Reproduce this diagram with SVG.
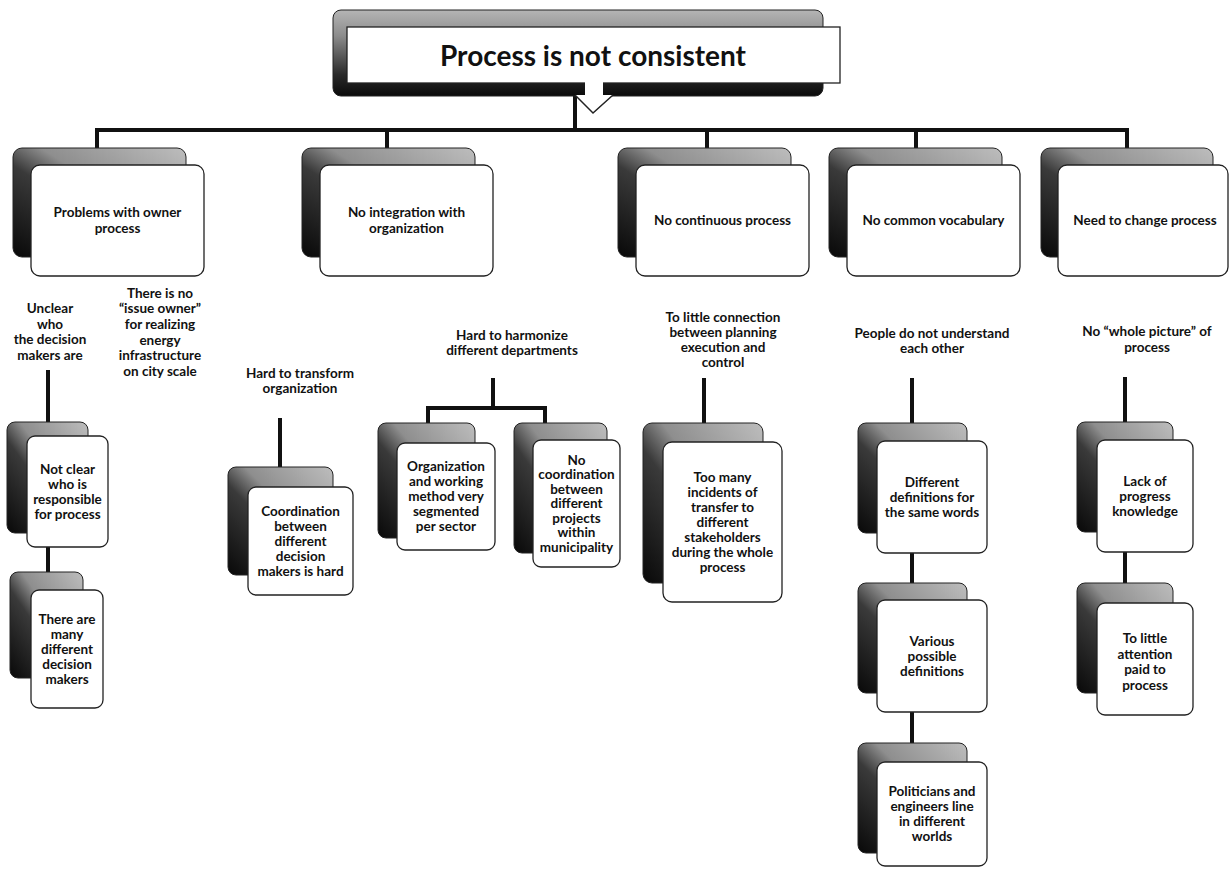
<svg xmlns="http://www.w3.org/2000/svg" width="1231" height="869" viewBox="0 0 1231 869">
<defs>
  <linearGradient id="g" x1="1" y1="0" x2="0" y2="1">
    <stop offset="0" stop-color="#bdbdbd"/>
    <stop offset="0.42" stop-color="#8e8e8e"/>
    <stop offset="0.58" stop-color="#3a3a3a"/>
    <stop offset="1" stop-color="#080808"/>
  </linearGradient>
  <linearGradient id="gt" x1="0" y1="0" x2="0" y2="1">
    <stop offset="0" stop-color="#b5b5b5"/>
    <stop offset="0.3" stop-color="#8c8c8c"/>
    <stop offset="0.75" stop-color="#2a2a2a"/>
    <stop offset="1" stop-color="#0a0a0a"/>
  </linearGradient>
</defs>
<style>
  .back{fill:url(#g);stroke:#222;stroke-width:1}
  .front{fill:#fff;stroke:#222;stroke-width:1.3}
  .t{font-family:Lato,"Liberation Sans",sans-serif;font-weight:bold;font-size:13.5px;fill:#111;text-anchor:middle}
  .title{font-size:28px}
  .c{fill:none;stroke:#111;stroke-width:4}
</style>
<rect width="1231" height="869" fill="#fff"/>

<g id="connectors">
  <path class="c" d="M575,95 V130"/>
  <path class="c" d="M97,148 V130 H1127 V148"/>
  <path class="c" d="M387,130 V148 M707,130 V148 M916,130 V148"/>
  <path class="c" d="M48,370 V422 M48,547 V572"/>
  <path class="c" d="M280,418 V467"/>
  <path class="c" d="M493,378 V408"/>
  <path class="c" d="M428,423 V408 H545 V423"/>
  <path class="c" d="M704,378 V423"/>
  <path class="c" d="M912,378 V423 M912,553 V583 M912,712 V743"/>
  <path class="c" d="M1125,377 V422 M1125,552 V583"/>
</g>

<g id="root">
  <rect x="333" y="10" width="490" height="86" rx="8" fill="url(#gt)" stroke="#222"/>
  <rect x="347" y="27" width="493" height="56" fill="#fff" stroke="#222" stroke-width="1.3"/>
  <polygon points="585,82 603,82 603,95 613,95 593,113 575,95 585,95" fill="#fff"/>
  <path d="M575,95 L593,113 L613,95" fill="none" stroke="#222" stroke-width="1.5"/>
  <text class="t title" x="593" y="66">Process is not consistent</text>
</g>

<g id="cat1">
  <rect class="back" x="13" y="148" width="173" height="109" rx="9"/>
  <rect class="front" x="31" y="165" width="173" height="111" rx="9"/>
  <text class="t" x="117.5" y="217">Problems with owner</text>
  <text class="t" x="117.5" y="233">process</text>
</g>
<g id="cat2">
  <rect class="back" x="302" y="148" width="173" height="109" rx="9"/>
  <rect class="front" x="320" y="165" width="173" height="111" rx="9"/>
  <text class="t" x="406.5" y="217">No integration with</text>
  <text class="t" x="406.5" y="233">organization</text>
</g>
<g id="cat3">
  <rect class="back" x="618" y="148" width="173" height="109" rx="9"/>
  <rect class="front" x="636" y="165" width="173" height="111" rx="9"/>
  <text class="t" x="722.5" y="225">No continuous process</text>
</g>
<g id="cat4">
  <rect class="back" x="829" y="148" width="173" height="109" rx="9"/>
  <rect class="front" x="847" y="165" width="173" height="111" rx="9"/>
  <text class="t" x="933.5" y="225">No common vocabulary</text>
</g>
<g id="cat5">
  <rect class="back" x="1041" y="148" width="172" height="109" rx="9"/>
  <rect class="front" x="1058" y="165" width="170" height="111" rx="9"/>
  <text class="t" x="1145" y="225">Need to change process</text>
</g>

<g id="lab-unclear">
  <text class="t" x="50" y="313">Unclear</text>
  <text class="t" x="50" y="329">who</text>
  <text class="t" x="50" y="344">the decision</text>
  <text class="t" x="50" y="360">makers are</text>
</g>
<g id="lab-issue-owner">
  <text class="t" x="160" y="298">There is no</text>
  <text class="t" x="160" y="313">“issue owner”</text>
  <text class="t" x="160" y="329">for realizing</text>
  <text class="t" x="160" y="345">energy</text>
  <text class="t" x="160" y="360">infrastructure</text>
  <text class="t" x="160" y="376">on city  scale</text>
</g>
<g id="lab-transform">
  <text class="t" x="300" y="378">Hard to transform</text>
  <text class="t" x="300" y="393">organization</text>
</g>
<g id="lab-harmonize">
  <text class="t" x="512" y="340">Hard to harmonize</text>
  <text class="t" x="512" y="355">different departments</text>
</g>
<g id="lab-connection">
  <text class="t" x="723" y="322">To little connection</text>
  <text class="t" x="723" y="337">between planning</text>
  <text class="t" x="723" y="352">execution and</text>
  <text class="t" x="723" y="367">control</text>
</g>
<g id="lab-understand">
  <text class="t" x="932" y="338">People do not understand</text>
  <text class="t" x="932" y="353">each other</text>
</g>
<g id="lab-whole">
  <text class="t" x="1147" y="336">No “whole picture” of</text>
  <text class="t" x="1147" y="352">process</text>
</g>

<g id="a1">
  <rect class="back" x="7" y="422" width="81" height="111" rx="8"/>
  <rect class="front" x="27" y="436" width="81" height="111" rx="8"/>
  <text class="t" x="67.5" y="474">Not clear</text>
  <text class="t" x="67.5" y="489">who is</text>
  <text class="t" x="67.5" y="504">responsible</text>
  <text class="t" x="67.5" y="519">for process</text>
</g>
<g id="a2">
  <rect class="back" x="10" y="572" width="73" height="106" rx="8"/>
  <rect class="front" x="31" y="590" width="72" height="118" rx="8"/>
  <text class="t" x="67" y="624">There are</text>
  <text class="t" x="67" y="639">many</text>
  <text class="t" x="67" y="654">different</text>
  <text class="t" x="67" y="669">decision</text>
  <text class="t" x="67" y="684">makers</text>
</g>
<g id="b1">
  <rect class="back" x="228" y="467" width="105" height="108" rx="8"/>
  <rect class="front" x="248" y="487" width="105" height="108" rx="8"/>
  <text class="t" x="300.5" y="516">Coordination</text>
  <text class="t" x="300.5" y="531">between</text>
  <text class="t" x="300.5" y="546">different</text>
  <text class="t" x="300.5" y="561">decision</text>
  <text class="t" x="300.5" y="576">makers is hard</text>
</g>
<g id="c1">
  <rect class="back" x="378" y="423" width="97" height="115" rx="8"/>
  <rect class="front" x="397" y="443" width="98" height="107" rx="8"/>
  <text class="t" x="446" y="471">Organization</text>
  <text class="t" x="446" y="486">and working</text>
  <text class="t" x="446" y="501">method very</text>
  <text class="t" x="446" y="516">segmented</text>
  <text class="t" x="446" y="531">per sector</text>
</g>
<g id="c2">
  <rect class="back" x="514" y="423" width="93" height="130" rx="8"/>
  <rect class="front" x="533" y="440" width="87" height="127" rx="8"/>
  <text class="t" x="576.5" y="465">No</text>
  <text class="t" x="576.5" y="479">coordination</text>
  <text class="t" x="576.5" y="494">between</text>
  <text class="t" x="576.5" y="508">different</text>
  <text class="t" x="576.5" y="523">projects</text>
  <text class="t" x="576.5" y="537">within</text>
  <text class="t" x="576.5" y="552">municipality</text>
</g>
<g id="d1">
  <rect class="back" x="643" y="423" width="120" height="160" rx="9"/>
  <rect class="front" x="663" y="442" width="119" height="160" rx="9"/>
  <text class="t" x="722.5" y="482">Too many</text>
  <text class="t" x="722.5" y="497">incidents of</text>
  <text class="t" x="722.5" y="512">transfer to</text>
  <text class="t" x="722.5" y="527">different</text>
  <text class="t" x="722.5" y="542">stakeholders</text>
  <text class="t" x="722.5" y="557">during the whole</text>
  <text class="t" x="722.5" y="572">process</text>
</g>
<g id="e1">
  <rect class="back" x="858" y="423" width="109" height="110" rx="8"/>
  <rect class="front" x="877" y="441" width="110" height="112" rx="8"/>
  <text class="t" x="932" y="487">Different</text>
  <text class="t" x="932" y="502">definitions for</text>
  <text class="t" x="932" y="517">the same words</text>
</g>
<g id="e2">
  <rect class="back" x="858" y="583" width="109" height="110" rx="8"/>
  <rect class="front" x="877" y="600" width="110" height="112" rx="8"/>
  <text class="t" x="932" y="646">Various</text>
  <text class="t" x="932" y="661">possible</text>
  <text class="t" x="932" y="676">definitions</text>
</g>
<g id="e3">
  <rect class="back" x="858" y="743" width="109" height="110" rx="8"/>
  <rect class="front" x="877" y="762" width="110" height="104" rx="8"/>
  <text class="t" x="932" y="796">Politicians and</text>
  <text class="t" x="932" y="811">engineers line</text>
  <text class="t" x="932" y="826">in different</text>
  <text class="t" x="932" y="841">worlds</text>
</g>
<g id="f1">
  <rect class="back" x="1077" y="422" width="96" height="110" rx="8"/>
  <rect class="front" x="1097" y="440" width="96" height="112" rx="8"/>
  <text class="t" x="1145" y="486">Lack of</text>
  <text class="t" x="1145" y="501">progress</text>
  <text class="t" x="1145" y="516">knowledge</text>
</g>
<g id="f2">
  <rect class="back" x="1077" y="583" width="96" height="110" rx="8"/>
  <rect class="front" x="1097" y="603" width="96" height="112" rx="8"/>
  <text class="t" x="1145" y="643">To little</text>
  <text class="t" x="1145" y="659">attention</text>
  <text class="t" x="1145" y="674">paid to</text>
  <text class="t" x="1145" y="690">process</text>
</g>
</svg>
